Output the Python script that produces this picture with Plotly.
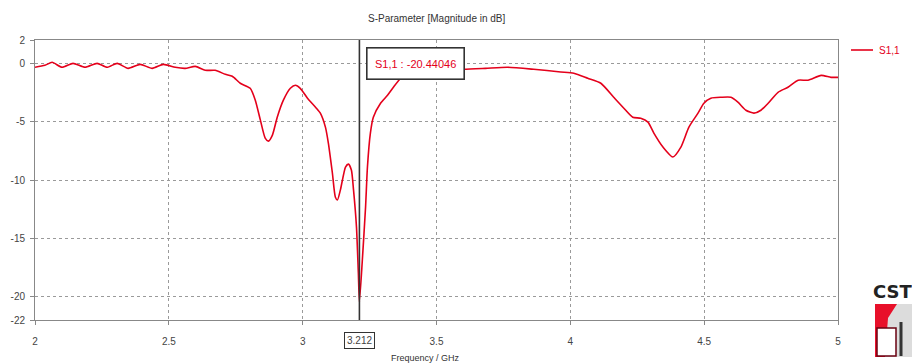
import plotly.graph_objects as go

# Frequency (GHz) and S1,1 magnitude (dB)
freq = [2.000, 2.037, 2.064, 2.101, 2.142, 2.187, 2.232, 2.269, 2.307, 2.348,
        2.393, 2.438, 2.479, 2.524, 2.561, 2.599, 2.636, 2.673, 2.711, 2.737,
        2.767, 2.804, 2.823, 2.842, 2.860, 2.872, 2.887, 2.905, 2.928, 2.954,
        2.973, 2.991, 3.018, 3.048, 3.066, 3.085, 3.096, 3.111, 3.122, 3.130,
        3.141, 3.160, 3.171, 3.182, 3.190, 3.201, 3.208, 3.212, 3.223, 3.235,
        3.242, 3.253, 3.264, 3.291, 3.317, 3.339, 3.366, 3.395, 3.440, 3.515,
        3.601, 3.683, 3.766, 3.863, 3.964, 4.013, 4.065, 4.114, 4.162, 4.200,
        4.233, 4.263, 4.290, 4.312, 4.346, 4.383, 4.413, 4.443, 4.477, 4.499,
        4.525, 4.563, 4.600, 4.626, 4.656, 4.686, 4.712, 4.739, 4.776, 4.813,
        4.851, 4.888, 4.937, 4.974, 5.000]
s11 = [-0.34, -0.17, 0.09, -0.34, 0.00, -0.34, 0.00, -0.34, 0.00, -0.43,
       -0.09, -0.43, -0.09, -0.34, -0.43, -0.26, -0.60, -0.60, -0.94, -1.11,
       -1.71, -2.14, -3.16, -4.87, -6.41, -6.67, -6.15, -4.62, -3.16, -2.14,
       -1.88, -2.14, -2.99, -3.76, -4.27, -5.47, -6.84, -9.40, -11.45, -11.71,
       -10.85, -8.89, -8.63, -9.15, -10.85, -14.02, -17.95, -20.44, -16.84, -12.31,
       -8.89, -5.98, -4.62, -3.42, -2.74, -2.05, -1.28, -0.77, -0.60, -0.51,
       -0.51, -0.43, -0.34, -0.51, -0.74, -0.85, -1.28, -1.71, -2.91, -3.85,
       -4.62, -4.70, -5.04, -5.98, -7.18, -8.03, -7.18, -5.47, -4.27, -3.42,
       -2.99, -2.91, -2.91, -3.33, -4.02, -4.27, -4.02, -3.42, -2.48, -2.05,
       -1.45, -1.45, -1.03, -1.20, -1.20]

x_ticks = [2, 2.5, 3, 3.5, 4, 4.5, 5]
x_labels = ["2", "2.5", "3", "3.5", "4", "4.5", "5"]
y_ticks = [2, 0, -5, -10, -15, -20, -22]
y_labels = ["2", "0", "-5", "-10", "-15", "-20", "-22"]

marker_f = 3.212
marker_val = "-20.44046"
series_name = "S1,1"
title = "S-Parameter [Magnitude in dB]"
x_title = "Frequency / GHz"

RED = "#e4001b"
FONT = "Liberation Sans"

# layout geometry (pixels)
L, R, T, B = 35, 74, 40, 44
W, H = 912, 364
PW, PH = W - L - R, H - T - B


def px(xp):
    return (xp - L) / PW


def py(yp):
    return (H - B - yp) / PH


fig = go.Figure()
fig.add_trace(go.Scatter(
    x=freq, y=s11, mode="lines", name=series_name, showlegend=False,
    line=dict(color=RED, width=1.6, shape="spline", smoothing=0.6),
))

fig.add_shape(type="line", x0=marker_f, x1=marker_f, y0=-22, y1=2,
              line=dict(color="#333333", width=1.6), layer="above")

axis_common = dict(
    showline=True, linecolor="#888888", linewidth=1, mirror=True,
    showgrid=True, gridcolor="#9a9a9a", griddash="dot", gridwidth=1,
    ticks="outside", ticklen=4, tickcolor="#888888",
    tickfont=dict(family=FONT, size=10, color="#444444"),
    zeroline=False,
)

fig.update_layout(
    width=W, height=H,
    margin=dict(l=L, r=R, t=T, b=B, autoexpand=False),
    paper_bgcolor="white", plot_bgcolor="white",
    showlegend=False,
    xaxis=dict(range=[2, 5], tickvals=x_ticks, ticktext=x_labels,
               ticklabelstandoff=8, **axis_common),
    yaxis=dict(range=[-22, 2], tickvals=y_ticks, ticktext=y_labels,
               ticklabelstandoff=3, **axis_common),
)

# Title
fig.add_annotation(text=title, xref="paper", yref="paper",
                   x=px(437), y=py(18), yanchor="middle",
                   showarrow=False, font=dict(family=FONT, size=10, color="#333333"))
# X axis title
fig.add_annotation(text=x_title, xref="paper", yref="paper",
                   x=px(425), y=py(358), yanchor="middle",
                   showarrow=False, font=dict(family=FONT, size=9, color="#333333"))
# marker value box
fig.add_annotation(text=f"{series_name} : {marker_val}", x=3.42, y=0,
                   xref="x", yref="y", showarrow=False,
                   font=dict(family=FONT, size=11, color=RED),
                   bgcolor="white", bordercolor="#333333", borderwidth=1.6,
                   width=92, height=26, borderpad=2)
# marker frequency box below axis
fig.add_annotation(text=str(marker_f), x=marker_f, xref="x", yref="paper",
                   y=py(340), yanchor="middle", showarrow=False,
                   font=dict(family=FONT, size=10, color="#444444"),
                   bgcolor="white", bordercolor="#333333", borderwidth=1,
                   borderpad=2)

# manual legend
fig.add_shape(type="line", xref="paper", yref="paper",
              x0=px(851), x1=px(873), y0=py(50), y1=py(50),
              line=dict(color=RED, width=1.6))
fig.add_annotation(text=series_name, xref="paper", yref="paper",
                   x=px(877), y=py(50), xanchor="left", yanchor="middle",
                   showarrow=False, font=dict(family=FONT, size=10, color=RED))

# CST logo (approximation)
fig.add_annotation(text="<b>CST</b>", xref="paper", yref="paper",
                   x=px(871), y=py(291), xanchor="left", yanchor="middle",
                   showarrow=False,
                   font=dict(family="DejaVu Sans", size=18, color="#222222"))
fig.add_shape(type="rect", xref="paper", yref="paper",
              x0=px(875), x1=px(912), y0=py(357), y1=py(304),
              fillcolor="#e8102a", line=dict(width=0), layer="above")
fig.add_shape(type="path", xref="paper", yref="paper",
              path=f"M {px(897)} {py(304)} L {px(912)} {py(304)} L {px(912)} {py(357)} L {px(885)} {py(357)} L {px(888)} {py(318)} Z",
              fillcolor="#dcdcdc", line=dict(width=0), layer="above")
fig.add_shape(type="rect", xref="paper", yref="paper",
              x0=px(877), x1=px(896), y0=py(356), y1=py(328),
              fillcolor="white", line=dict(color="#6a0010", width=1.5), layer="above")
fig.add_shape(type="line", xref="paper", yref="paper",
              x0=px(901), x1=px(901), y0=py(356), y1=py(322),
              line=dict(color="#333333", width=3), layer="above")

fig.write_html("out.html")
